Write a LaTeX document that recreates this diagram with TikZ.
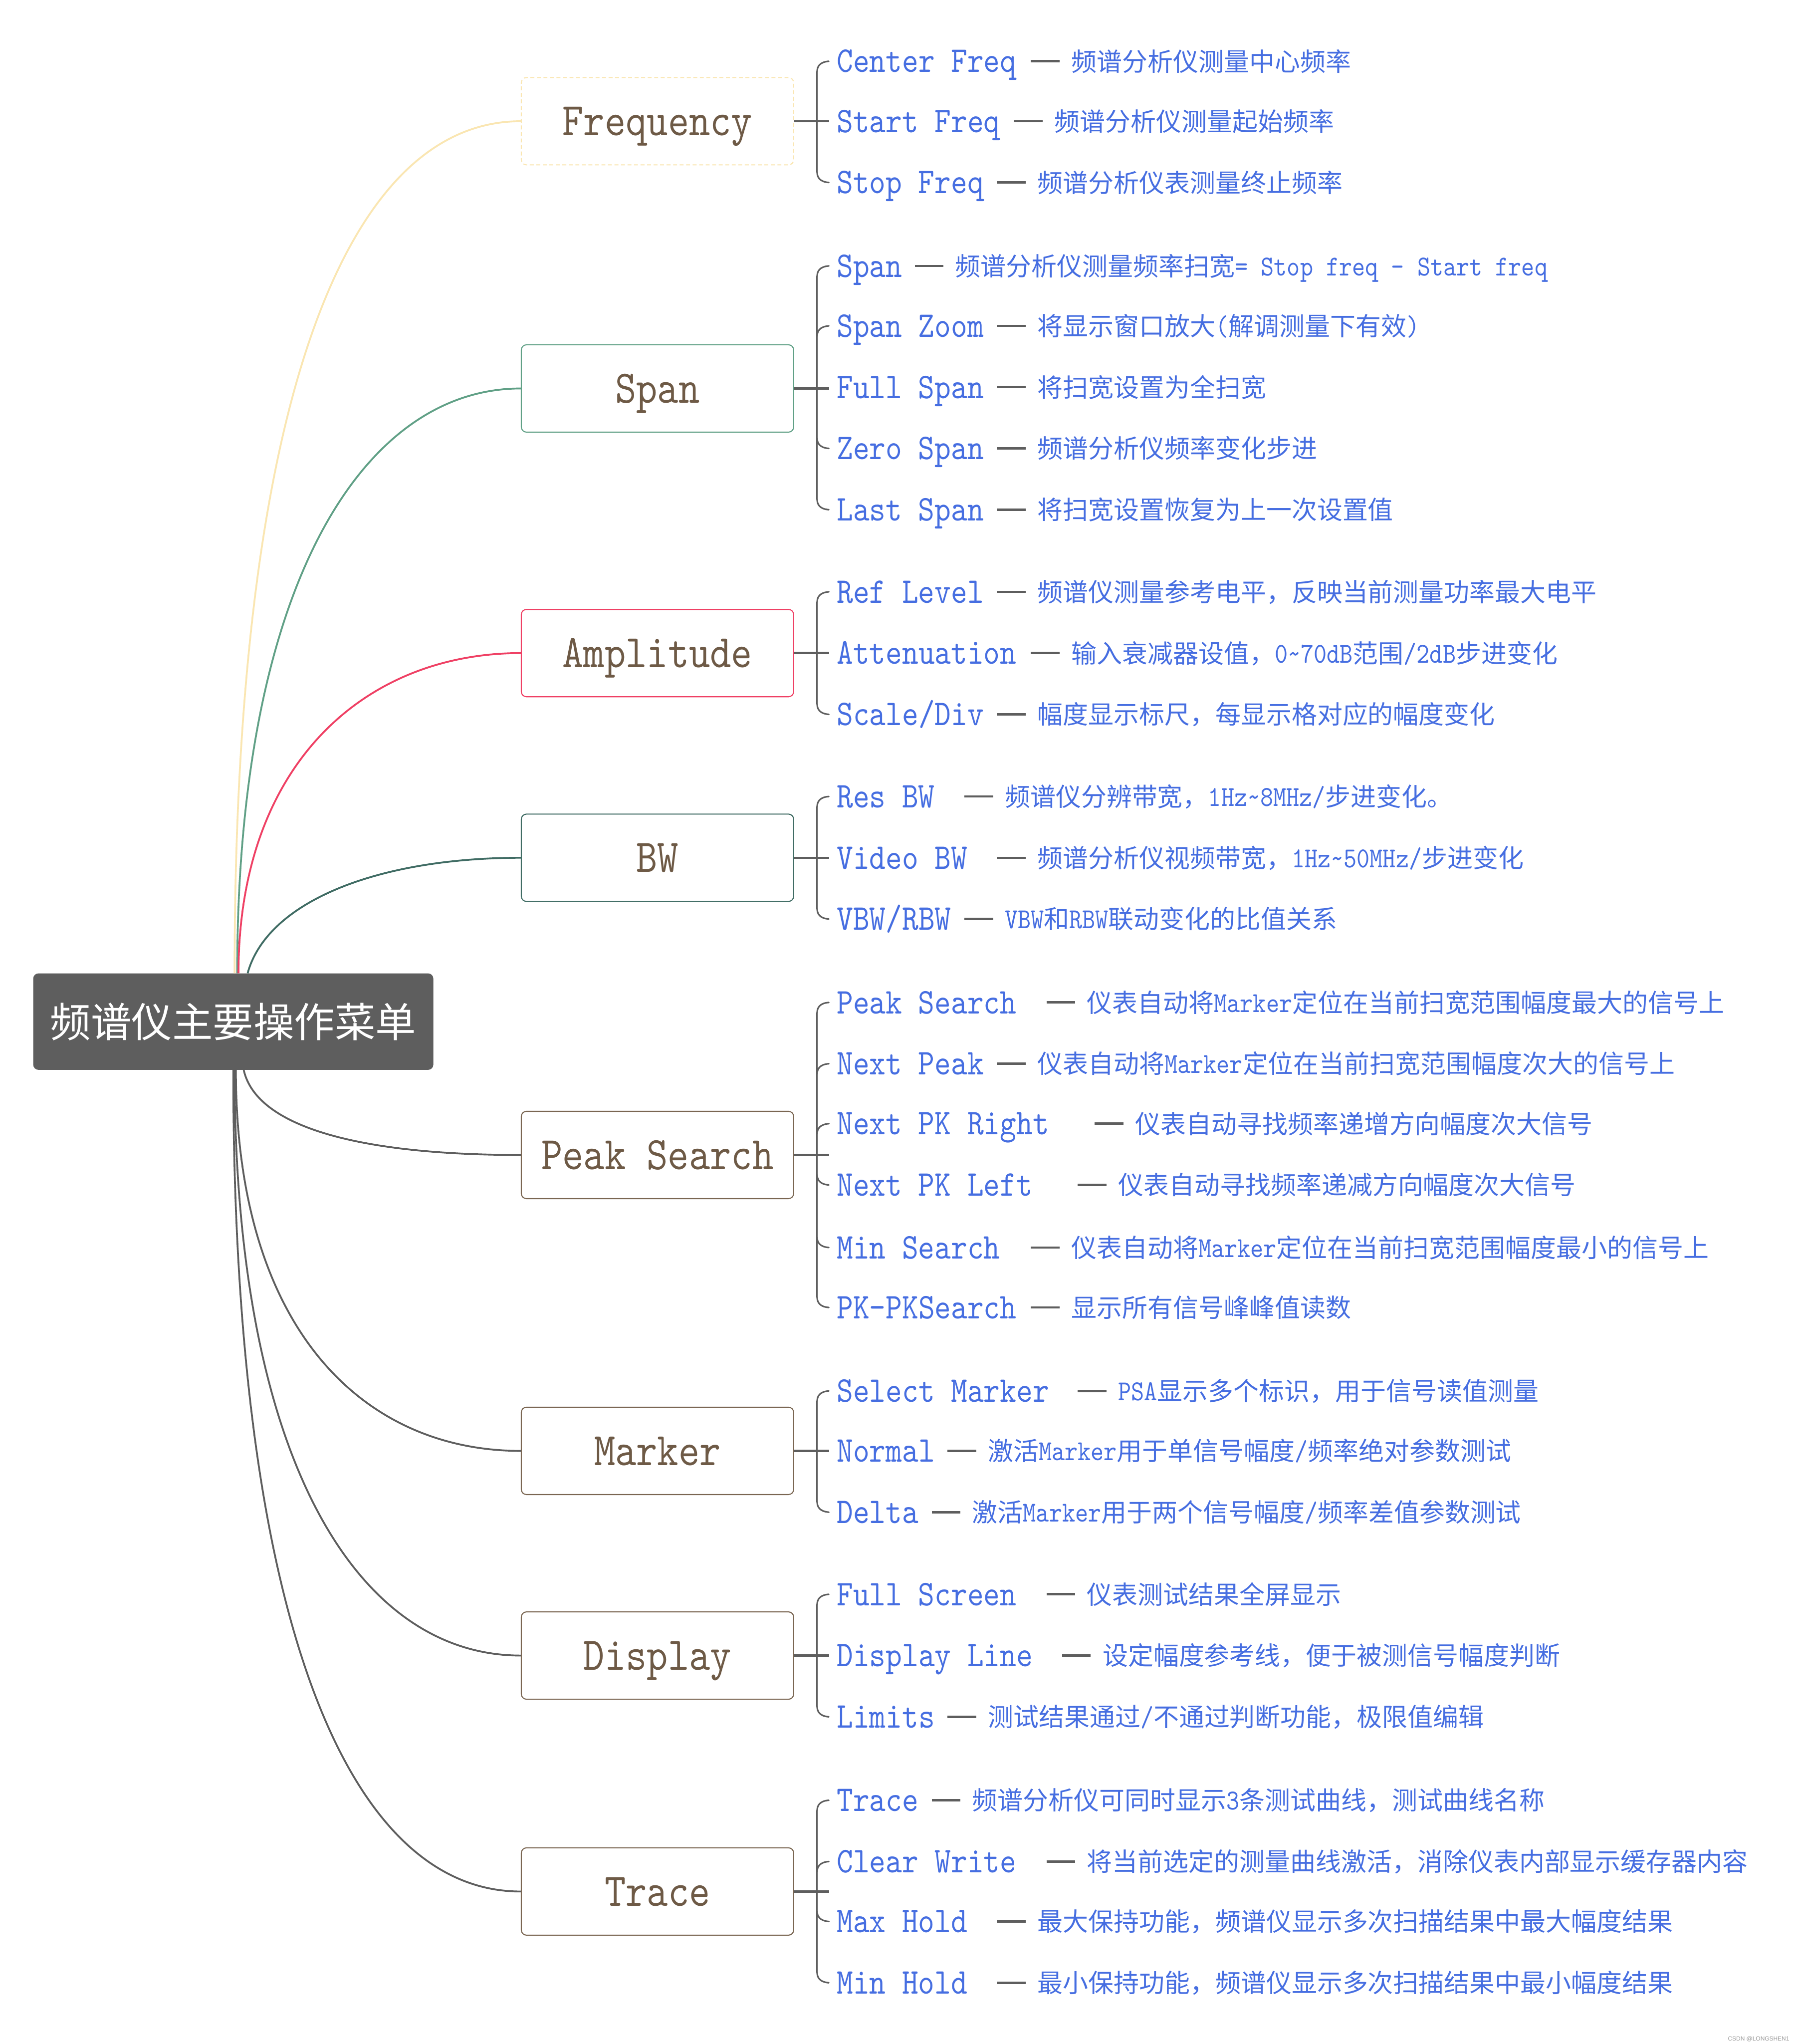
\documentclass[tikz,border=0pt]{standalone}
\usepackage{fontspec}
\setmainfont{Liberation Serif}
\newfontfamily\monof[FakeStretch=0.86]{lmmono10-regular.otf}
\newfontfamily\cjkf{Noto Sans CJK SC}
\newfontfamily\sansf{Liberation Sans}
\usetikzlibrary{calc}
\definecolor{rootgray}{RGB}{94,94,94}
\definecolor{leafblue}{RGB}{70,110,225}
\definecolor{browntxt}{RGB}{110,90,70}
\definecolor{brownbd}{RGB}{122,102,82}
\definecolor{yellowbd}{RGB}{250,230,178}
\definecolor{greenbd}{RGB}{96,160,134}
\definecolor{redbd}{RGB}{239,64,100}
\definecolor{tealbd}{RGB}{64,108,100}
\definecolor{graybd}{RGB}{94,94,94}
\newcommand\dl[1]{{\monof\fontsize{63}{64}\selectfont #1}}
\tikzset{
  rootnode/.style={rectangle, rounded corners=4mm, fill=rootgray, text=white,
    font=\cjkf\fontsize{88.8}{100}\selectfont, minimum width=307mm, minimum height=74mm,
    text height=23.7mm, text depth=0mm, inner sep=0},
  branch/.style={rectangle, rounded corners=4mm, draw=#1, line width=0.8mm, fill=white,
    text=browntxt, font=\monof\fontsize{102}{110}\selectfont, minimum width=209mm,
    minimum height=67mm, text height=21.9mm, text depth=0mm, inner sep=0},
  lab/.style={anchor=west, inner sep=0, text=leafblue, font=\monof\fontsize{79}{84}\selectfont,
    text height=17mm, text depth=0mm},
  dsc/.style={anchor=west, inner sep=0, text=leafblue, font=\cjkf\fontsize{55.5}{60}\selectfont,
    text height=14.8mm, text depth=0mm},
  edgeln/.style={draw=#1, line width=1.4mm},
  brk/.style={draw=graybd, line width=1.2mm, line cap=round},
  stub/.style={draw=graybd, line width=1.8mm},
  dashl/.style={draw=graybd, line width=1.8mm},
}
\newcommand\leafrow[5]{%
  \node[lab] (#1) at (642,#2) {#3};
  \node[dsc] (#1d) at (#4,#2) {#5};
  \draw[dashl] ([xshift=-31mm]#1d.west) -- ([xshift=-9mm]#1d.west);
}
\newcommand\hookup[1]{\draw[brk] ([xshift=-6mm]#1.west) .. controls +(-7,0.5) and +(0,-4) .. ([xshift=-15mm,yshift=-8mm]#1.west);}
\newcommand\hookdn[1]{\draw[brk] ([xshift=-6mm]#1.west) .. controls +(-7,-0.5) and +(0,4) .. ([xshift=-15mm,yshift=8mm]#1.west);}
\newcommand\spine[2]{\draw[brk] ([xshift=-15mm,yshift=-8mm]#1.west) -- ([xshift=-15mm,yshift=8mm]#2.west);}
\begin{document}
\begin{tikzpicture}[x=1mm,y=-1mm]
\useasboundingbox (0,0) rectangle (1377,1568);
\fill[white] (0,0) rectangle (1377,1568);

% root and branches
\node[rootnode] (root) at (179,783.7) {频谱仪主要操作菜单};
\node[branch=yellowbd, dash pattern=on 3mm off 2mm] (freq) at (504.5,93) {Frequency};
\node[branch=greenbd] (span) at (504.5,298) {Span};
\node[branch=redbd] (amp) at (504.5,501) {Amplitude};
\node[branch=tealbd] (bw) at (504.5,658) {BW};
\node[branch=brownbd] (peak) at (504.5,886) {Peak Search};
\node[branch=brownbd] (mark) at (504.5,1113) {Marker};
\node[branch=brownbd] (disp) at (504.5,1270) {Display};
\node[branch=brownbd] (trace) at (504.5,1451) {Trace};

% root edges
\draw[edgeln=yellowbd] ([xshift=1mm]root.north) .. controls +(0,-450) and +(-130,0) .. (freq.west);
\draw[edgeln=greenbd] ([xshift=3mm]root.north) .. controls +(0,-300) and +(-120,0) .. (span.west);
\draw[edgeln=redbd] ([xshift=4mm]root.north) .. controls +(0,-160) and +(-120,0) .. (amp.west);
\draw[edgeln=tealbd] ([xshift=11mm]root.north) .. controls +(15,-55) and +(-110,0) .. (bw.west);
\draw[edgeln=graybd] ([xshift=8mm]root.south) .. controls +(10,45) and +(-120,0) .. (peak.west);
\draw[edgeln=graybd] ([xshift=2mm]root.south) .. controls +(0,200) and +(-120,0) .. (mark.west);
\draw[edgeln=graybd] ([xshift=1mm]root.south) .. controls +(0,300) and +(-125,0) .. (disp.west);
\draw[edgeln=graybd] (root.south) .. controls +(0,430) and +(-130,0) .. (trace.west);

% Frequency
\leafrow{cf}{47}{Center Freq}{822}{频谱分析仪测量中心频率}
\leafrow{sf}{93}{Start Freq}{809}{频谱分析仪测量起始频率}
\leafrow{stf}{140}{Stop Freq}{796}{频谱分析仪表测量终止频率}
\draw[stub] (freq.east) -- ++(27,0);
\hookup{cf}\hookdn{stf}\spine{cf}{stf}

% Span
\leafrow{sp}{204}{Span}{733}{频谱分析仪测量频率扫宽\dl{= Stop freq - Start freq}}
\leafrow{sz}{250}{Span Zoom}{796}{将显示窗口放大\dl{(}解调测量下有效\dl{)}}
\leafrow{fs}{297}{Full Span}{796}{将扫宽设置为全扫宽}
\leafrow{zs}{344}{Zero Span}{796}{频谱分析仪频率变化步进}
\leafrow{ls}{391}{Last Span}{796}{将扫宽设置恢复为上一次设置值}
\draw[stub] (span.east) -- ++(27,0);
\hookup{sp}\hookup{sz}\hookdn{zs}\hookdn{ls}\spine{sp}{ls}

% Amplitude
\leafrow{rl}{454}{Ref Level}{796}{频谱仪测量参考电平，反映当前测量功率最大电平}
\leafrow{att}{501}{Attenuation}{822}{输入衰减器设值，\dl{0\textasciitilde70dB}范围\dl{/2dB}步进变化}
\leafrow{sd}{548}{Scale/Div}{796}{幅度显示标尺，每显示格对应的幅度变化}
\draw[stub] (amp.east) -- ++(27,0);
\hookup{rl}\hookdn{sd}\spine{rl}{sd}

% BW
\leafrow{rb}{611}{Res BW}{771}{频谱仪分辨带宽，\dl{1Hz\textasciitilde8MHz/}步进变化。}
\leafrow{vb}{658}{Video BW}{796}{频谱分析仪视频带宽，\dl{1Hz\textasciitilde50MHz/}步进变化}
\leafrow{vr}{705}{VBW/RBW}{771}{\dl{VBW}和\dl{RBW}联动变化的比值关系}
\draw[stub] (bw.east) -- ++(27,0);
\hookup{rb}\hookdn{vr}\spine{rb}{vr}

% Peak Search
\leafrow{ps}{769}{Peak Search}{834}{仪表自动将\dl{Marker}定位在当前扫宽范围幅度最大的信号上}
\leafrow{np}{816}{Next Peak}{796}{仪表自动将\dl{Marker}定位在当前扫宽范围幅度次大的信号上}
\leafrow{nr}{862}{Next PK Right}{871}{仪表自动寻找频率递增方向幅度次大信号}
\leafrow{nl}{909}{Next PK Left}{858}{仪表自动寻找频率递减方向幅度次大信号}
\leafrow{ms}{957}{Min Search}{822}{仪表自动将\dl{Marker}定位在当前扫宽范围幅度最小的信号上}
\leafrow{pp}{1003}{PK-PKSearch}{822}{显示所有信号峰峰值读数}
\draw[stub] (peak.east) -- ++(27,0);
\hookup{ps}\hookup{np}\hookup{nr}\hookdn{nl}\hookdn{ms}\hookdn{pp}\spine{ps}{pp}

% Marker
\leafrow{sm}{1067}{Select Marker}{858}{\dl{PSA}显示多个标识，用于信号读值测量}
\leafrow{nm}{1113}{Normal}{758}{激活\dl{Marker}用于单信号幅度\dl{/}频率绝对参数测试}
\leafrow{dt}{1160}{Delta}{746}{激活\dl{Marker}用于两个信号幅度\dl{/}频率差值参数测试}
\draw[stub] (mark.east) -- ++(27,0);
\hookup{sm}\hookdn{dt}\spine{sm}{dt}

% Display
\leafrow{fsc}{1223}{Full Screen}{834}{仪表测试结果全屏显示}
\leafrow{dln}{1270}{Display Line}{846}{设定幅度参考线，便于被测信号幅度判断}
\leafrow{lm}{1317}{Limits}{758}{测试结果通过\dl{/}不通过判断功能，极限值编辑}
\draw[stub] (disp.east) -- ++(27,0);
\hookup{fsc}\hookdn{lm}\spine{fsc}{lm}

% Trace
\leafrow{tr}{1381}{Trace}{746}{频谱分析仪可同时显示\dl{3}条测试曲线，测试曲线名称}
\leafrow{cw}{1428}{Clear Write}{834}{将当前选定的测量曲线激活，消除仪表内部显示缓存器内容}
\leafrow{mh}{1474}{Max Hold}{796}{最大保持功能，频谱仪显示多次扫描结果中最大幅度结果}
\leafrow{mnh}{1521}{Min Hold}{796}{最小保持功能，频谱仪显示多次扫描结果中最小幅度结果}
\draw[stub] (trace.east) -- ++(27,0);
\hookup{tr}\hookup{cw}\hookdn{mh}\hookdn{mnh}\spine{tr}{mnh}

% watermark
\node[anchor=east, inner sep=0, text=black!40, font=\sansf\fontsize{13}{14}\selectfont] (wm) at (1373,1564) {CSDN @LONGSHEN1};
\end{tikzpicture}
\end{document}
